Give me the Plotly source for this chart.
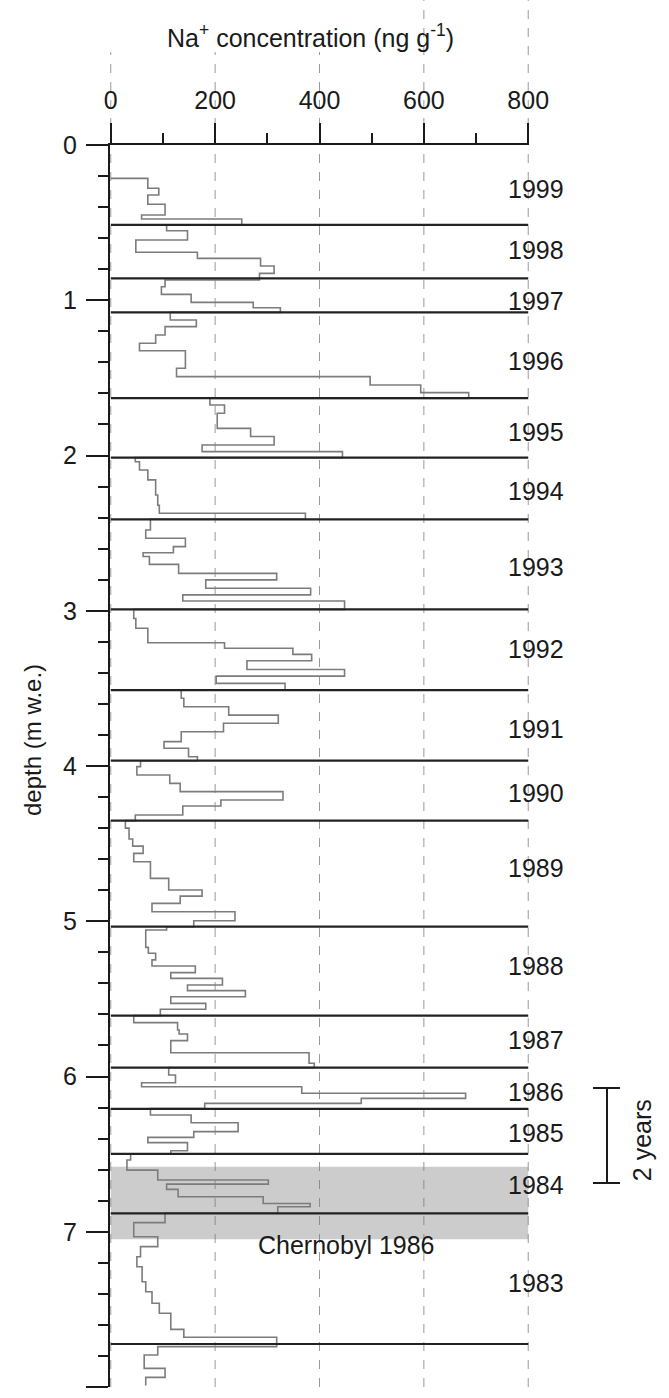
import plotly.graph_objects as go

# ---------------- data ----------------
sample_top = [0.215, 0.279, 0.322, 0.382, 0.451, 0.477, 0.515, 0.552, 0.612, 0.691,
              0.730, 0.779, 0.827, 0.870, 0.913, 0.962, 1.014, 1.048, 1.078, 1.127,
              1.170, 1.224, 1.277, 1.325, 1.438, 1.492, 1.546, 1.595, 1.632, 1.675,
              1.728, 1.825, 1.878, 1.932, 1.975, 2.014, 2.040, 2.093, 2.157, 2.254,
              2.320, 2.372, 2.411, 2.480, 2.533, 2.587, 2.626, 2.651, 2.701, 2.759,
              2.801, 2.855, 2.898, 2.937, 2.991, 3.050, 3.113, 3.206, 3.242, 3.281,
              3.322, 3.378, 3.421, 3.468, 3.511, 3.564, 3.618, 3.672, 3.725, 3.779,
              3.843, 3.886, 3.940, 3.966, 4.004, 4.058, 4.112, 4.165, 4.219, 4.258,
              4.316, 4.352, 4.400, 4.470, 4.516, 4.563, 4.617, 4.724, 4.799, 4.838,
              4.885, 4.939, 4.997, 5.035, 5.056, 5.168, 5.206, 5.249, 5.288, 5.331,
              5.368, 5.411, 5.447, 5.486, 5.529, 5.567, 5.608, 5.653, 5.700, 5.726,
              5.769, 5.847, 5.915, 5.943, 5.990, 6.040, 6.066, 6.108, 6.141, 6.173,
              6.207, 6.248, 6.298, 6.355, 6.392, 6.426, 6.478, 6.499, 6.538, 6.603,
              6.667, 6.693, 6.727, 6.775, 6.818, 6.839, 6.881, 6.941, 7.032, 7.096,
              7.161, 7.225, 7.322, 7.386, 7.461, 7.525, 7.629, 7.680, 7.740, 7.794,
              7.880, 7.938]
sample_na = [71, 92, 71, 104, 59, 251, 107, 147, 48, 166,
             287, 313, 285, 104, 97, 154, 273, 325, 114, 164,
             104, 86, 55, 143, 126, 497, 594, 686, 190, 218,
             204, 268, 313, 175, 444, 47, 55, 71, 86, 90,
             93, 373, 76, 67, 143, 120, 62, 74, 130, 318,
             182, 383, 138, 448, 44, 48, 71, 218, 349, 385,
             261, 448, 202, 334, 135, 140, 226, 321, 216, 135,
             102, 149, 166, 57, 50, 113, 133, 330, 211, 138,
             47, 28, 35, 42, 62, 44, 76, 111, 175, 133,
             79, 238, 159, 107, 67, 72, 86, 79, 162, 115,
             214, 147, 258, 115, 182, 95, 44, 128, 131, 147,
             115, 380, 390, 111, 124, 59, 366, 680, 480, 180,
             76, 154, 244, 159, 71, 147, 115, 38, 31, 90,
             302, 107, 129, 292, 382, 320, 104, 44, 90, 57,
             50, 60, 67, 79, 93, 115, 140, 318, 90, 64,
             104, 67]
profile_bottom = 7.99

year_boundaries = [0.515, 0.859, 1.078, 1.630, 2.014, 2.411, 2.991, 3.511, 3.966,
                   4.352, 5.035, 5.608, 5.943, 6.209, 6.499, 6.881, 7.723]
year_labels = ["1999", "1998", "1997", "1996", "1995", "1994", "1993", "1992", "1991",
               "1990", "1989", "1988", "1987", "1986", "1985", "1984", "1983"]
year_label_depth = [0.285, 0.676, 1.005, 1.389, 1.846, 2.229, 2.716, 3.248, 3.764,
                    4.172, 4.660, 5.288, 5.765, 6.102, 6.366, 6.699, 7.328]

chernobyl_band = [6.581, 7.049]
bracket_depth = [6.074, 6.686]
x_ticks = [0, 200, 400, 600, 800]

# ---------------- layout geometry (pixels) ----------------
W_FIG, H_FIG = 669, 1398
L, R, T, B = 110, 529, 145, 1387
PW, PH = R - L, B - T

def px_x(px):
    return (px - L) / PW

def px_y(py):
    return (B - py) / PH

FONT = "Liberation Sans, Arial, Helvetica, sans-serif"
TXT = "#1a1a1a"
FS = 25

fig = go.Figure()

# profile (step line)
xs = [0] + sample_na + [sample_na[-1]]
ys = [sample_top[0]] + sample_top + [profile_bottom]
fig.add_trace(go.Scatter(x=xs, y=ys, mode="lines", line_shape="vh",
                         line=dict(color="#7c7c7c", width=1.6),
                         hoverinfo="skip", showlegend=False))

# year boundary lines
bx, by = [], []
for d in year_boundaries:
    bx += [0, 800, None]
    by += [d, d, None]
fig.add_trace(go.Scatter(x=bx, y=by, mode="lines",
                         line=dict(color="#222222", width=2.2),
                         hoverinfo="skip", showlegend=False))

shapes = []
# dashed vertical grid lines, extending above the plot
for v in x_ticks:
    shapes.append(dict(type="line", xref="x", yref="paper", x0=v, x1=v,
                       y0=0, y1=px_y(0), layer="below",
                       line=dict(color="#9a9a9a", width=1, dash="dash")))
# white box behind title
shapes.append(dict(type="rect", xref="paper", yref="paper",
                   x0=px_x(95), x1=px_x(415), y0=px_y(52), y1=px_y(0),
                   fillcolor="white", line=dict(width=0), layer="below"))
# Chernobyl band
shapes.append(dict(type="rect", xref="x", yref="y", x0=0, x1=800,
                   y0=chernobyl_band[0], y1=chernobyl_band[1],
                   fillcolor="rgba(120,120,120,0.38)", line=dict(width=0), layer="below"))
# 2 years bracket
shapes.append(dict(type="line", xref="paper", yref="y", x0=px_x(607), x1=px_x(607),
                   y0=bracket_depth[0], y1=bracket_depth[1], line=dict(color="#1a1a1a", width=2)))
for d in bracket_depth:
    shapes.append(dict(type="line", xref="paper", yref="y", x0=px_x(593), x1=px_x(620),
                       y0=d, y1=d, line=dict(color="#1a1a1a", width=2)))

annotations = []
for lab, d in zip(year_labels, year_label_depth):
    annotations.append(dict(text=lab, xref="paper", yref="y", x=px_x(536), y=d,
                            showarrow=False, xanchor="center", yanchor="middle",
                            font=dict(size=FS, color=TXT, family=FONT)))
annotations.append(dict(text="Chernobyl 1986", xref="x", yref="y", x=452, y=7.085,
                        showarrow=False, xanchor="center", yanchor="middle",
                        font=dict(size=FS, color=TXT, family=FONT)))
annotations.append(dict(text="2 years", xref="paper", yref="y", x=px_x(642), y=6.41,
                        showarrow=False, textangle=-90, xanchor="center", yanchor="middle",
                        font=dict(size=FS, color=TXT, family=FONT)))
annotations.append(dict(text="depth (m w.e.)", xref="paper", yref="paper",
                        x=px_x(32), y=px_y(740), showarrow=False, textangle=-90,
                        xanchor="center", yanchor="middle",
                        font=dict(size=FS - 1, color=TXT, family=FONT)))
annotations.append(dict(text="Na<sup>+</sup> concentration (ng g<sup>-1</sup>)",
                        xref="paper", yref="paper", x=px_x(310), y=px_y(36),
                        showarrow=False, xanchor="center", yanchor="middle",
                        font=dict(size=FS, color=TXT, family=FONT)))

fig.update_layout(
    width=W_FIG, height=H_FIG,
    margin=dict(l=L, r=W_FIG - R, t=T, b=H_FIG - B, pad=0),
    paper_bgcolor="white", plot_bgcolor="rgba(0,0,0,0)",
    font=dict(family=FONT, size=FS, color=TXT),
    shapes=shapes, annotations=annotations, showlegend=False,
)
fig.update_xaxes(side="top", range=[-1.5, 801.5], tickvals=x_ticks,
                 ticks="outside", ticklen=20, tickwidth=2, tickcolor="#1a1a1a",
                 minor=dict(dtick=100, tick0=0, ticks="outside", ticklen=10,
                            tickwidth=2, tickcolor="#1a1a1a", showgrid=False),
                 showline=True, linewidth=2, linecolor="#1a1a1a",
                 showgrid=False, zeroline=False, ticklabelstandoff=4,
                 tickfont=dict(size=FS, color=TXT, family=FONT))
fig.update_yaxes(range=[8, 0], dtick=1, tick0=0,
                 ticks="outside", ticklen=22, tickwidth=2, tickcolor="#1a1a1a",
                 minor=dict(dtick=0.2, tick0=0, ticks="outside", ticklen=10,
                            tickwidth=2, tickcolor="#1a1a1a", showgrid=False),
                 showline=True, linewidth=2, linecolor="#1a1a1a",
                 showgrid=False, zeroline=False, ticklabelstandoff=4,
                 tickfont=dict(size=FS, color=TXT, family=FONT))

fig.write_html("out.html")
